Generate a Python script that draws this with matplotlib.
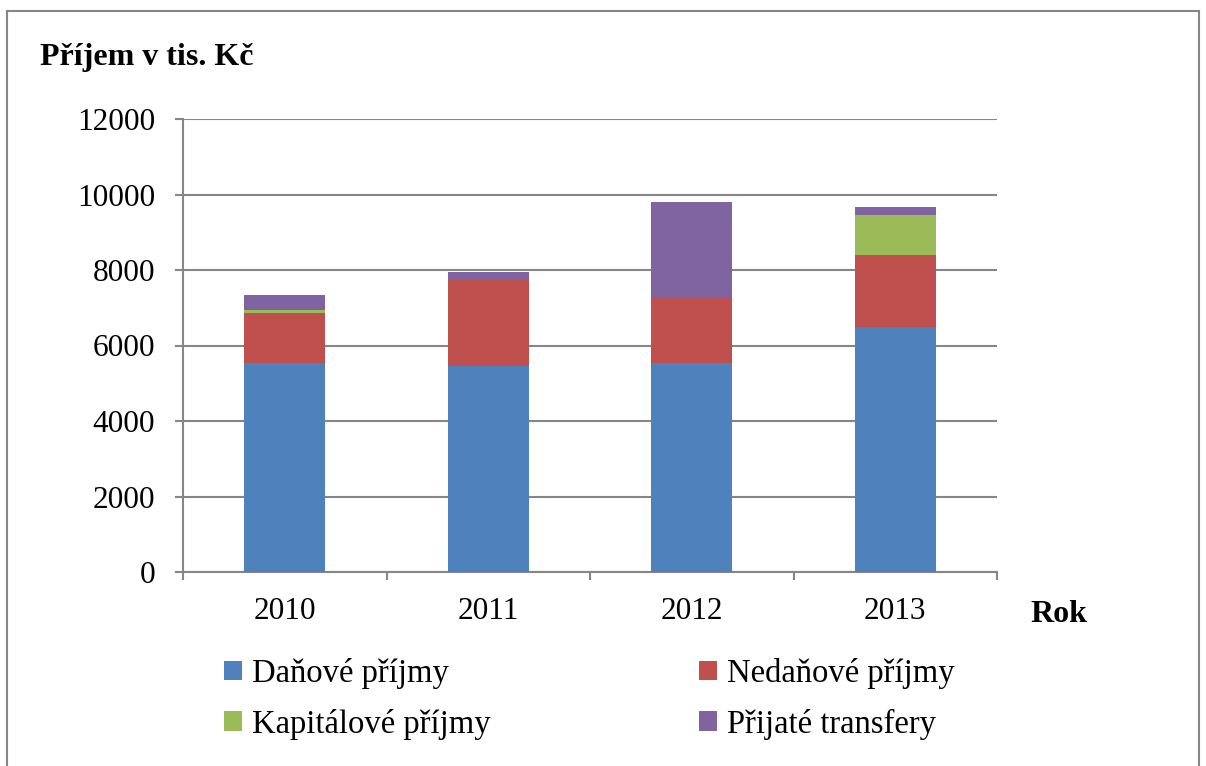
import numpy as np
import matplotlib
matplotlib.use("Agg")
import matplotlib.pyplot as plt
from matplotlib.lines import Line2D

plt.rcParams['font.family'] = ['Liberation Serif', 'DejaVu Serif']

# data (tis. Kč)
years = ['2010', '2011', '2012', '2013']
danove = [5530, 5460, 5530, 6500]
nedanove = [1330, 2285, 1750, 1900]
kapitalove = [90, 0, 0, 1050]
transfery = [390, 210, 2515, 210]

series = [
    ('Daňové příjmy', danove, '#4F81BD'),
    ('Nedaňové příjmy', nedanove, '#C0504D'),
    ('Kapitálové příjmy', kapitalove, '#9BBB59'),
    ('Přijaté transfery', transfery, '#8064A2'),
]

W, H = 1206, 766
fig = plt.figure(figsize=(W / 100, H / 100), dpi=100)
ax = fig.add_axes([183 / W, 1 - 572 / H, (997 - 183) / W, (572 - 119) / H])

x = np.arange(len(years))
bottom = np.zeros(len(years))
handles = {}
for name, vals, col in series:
    b = ax.bar(x, vals, width=0.4, bottom=bottom, color=col, label=name, zorder=3)
    handles[name] = b
    bottom += np.array(vals)

grid_col = '#868686'
ax.set_ylim(0, 12000)
ax.set_yticks(np.arange(0, 12001, 2000))
ax.set_xlim(-0.5, 3.5)
ax.set_xticks(x)
ax.set_xticklabels(years)
ax.set_xticks(np.arange(-0.5, 3.6, 1), minor=True)
ax.yaxis.grid(True, color=grid_col, lw=1.5, zorder=0)
ax.set_axisbelow(True)
for s in ['top', 'right']:
    ax.spines[s].set_visible(False)
for s in ['left', 'bottom']:
    ax.spines[s].set_color(grid_col)
    ax.spines[s].set_linewidth(1.5)
ax.tick_params(axis='y', direction='out', length=6, width=1.5, color=grid_col,
               labelsize=22.5, pad=14)
ax.tick_params(axis='x', which='major', length=0, labelsize=22.5, pad=18)
ax.tick_params(axis='x', which='minor', direction='out', length=6, width=1.5, color=grid_col)

fig.text(40 / W, 1 - 65 / H, 'Příjem v tis. Kč', fontsize=23, fontweight='bold', va='baseline')
fig.text(1030 / W, 1 - 622 / H, 'Rok', fontsize=23, fontweight='bold', va='baseline')

order = ['Daňové příjmy', 'Kapitálové příjmy', 'Nedaňové příjmy', 'Přijaté transfery']
leg = fig.legend([handles[n] for n in order], order, ncol=2, frameon=False,
                 fontsize=23.5, loc='upper left', bbox_to_anchor=(224 / W, 1 - 658 / H),
                 handlelength=0.55, handleheight=0.55, handletextpad=0.3,
                 columnspacing=6.4, labelspacing=0.6, borderpad=0, borderaxespad=0)

# outer frame of the chart area
for xs, ys in [([7, 7], [11, H]), ([7, 1199], [11, 11]), ([1199, 1199], [11, H])]:
    fig.add_artist(Line2D([v / W for v in xs], [1 - v / H for v in ys],
                          color=grid_col, lw=1.5, transform=fig.transFigure))

fig.savefig('out.png', dpi=100)
